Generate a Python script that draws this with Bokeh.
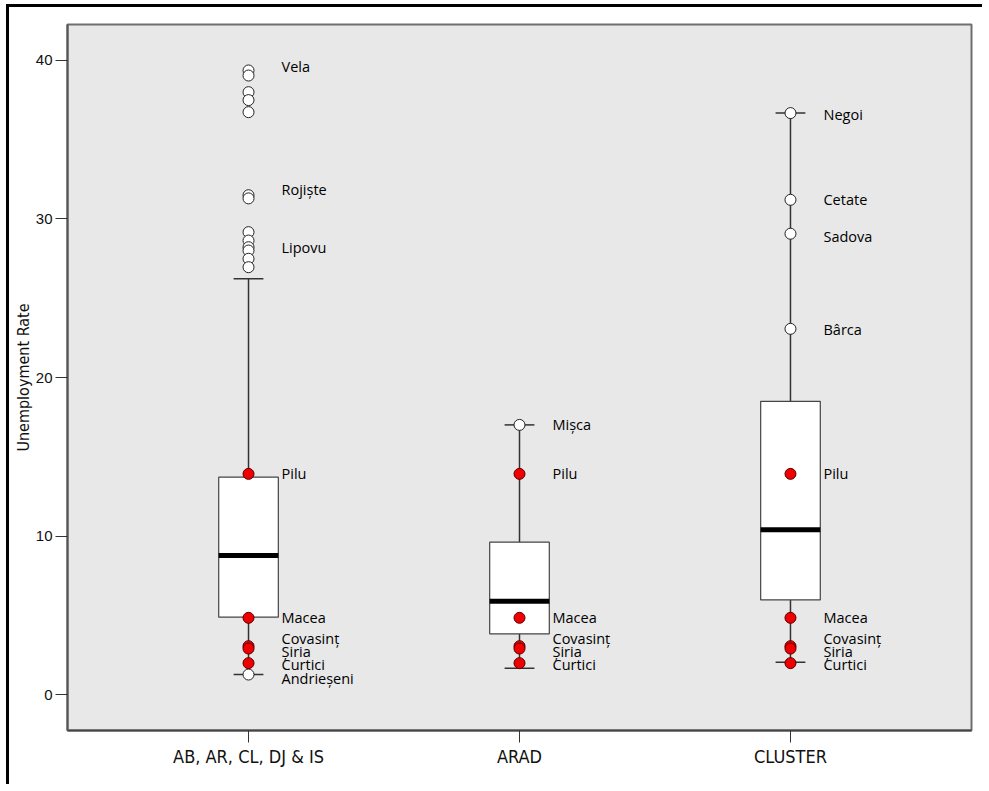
from bokeh.plotting import figure
from bokeh.models import FixedTicker, ColumnDataSource
from bokeh.core.properties import value
from bokeh.embed import file_html
from bokeh.resources import INLINE

# ---------------- data ----------------
groups = ["AB, AR, CL, DJ & IS", "ARAD", "CLUSTER"]
q1 = [4.88, 3.83, 5.97]
median = [8.77, 5.89, 10.39]
q3 = [13.71, 9.61, 18.5]
whisker_low = [1.26, 1.66, 2.04]
whisker_high = [26.23, 17.01, 36.68]

# open circles (outliers / extreme localities)
out_group = [0] * 13 + [0] + [1] + [2] * 4
out_value = [39.37, 39.05, 38.0, 37.5, 36.74, 31.5, 31.3,
             29.17, 28.64, 28.22, 28.01, 27.49, 26.96,
             1.26, 17.01, 36.68, 31.21, 29.07, 23.07]

# highlighted localities (red), same in each group
hl_names = ["Pilu", "Macea", "Covasinț", "Șiria", "Curtici"]
hl_values = [13.92, 4.84, 3.05, 2.9, 1.98]

# point labels
lab_group = [0, 0, 0, 0, 0, 0, 0, 0, 0,
             1, 1, 1, 1, 1, 1,
             2, 2, 2, 2, 2, 2, 2, 2, 2]
lab_text = ["Vela", "Rojiște", "Lipovu", "Pilu", "Macea", "Covasinț", "Șiria", "Curtici", "Andrieșeni",
            "Mișca", "Pilu", "Macea", "Covasinț", "Șiria", "Curtici",
            "Negoi", "Cetate", "Sadova", "Bârca", "Pilu", "Macea", "Covasinț", "Șiria", "Curtici"]
lab_value = [39.37, 31.5, 28.22, 13.92, 4.84, 3.05, 2.9, 1.98, 1.26,
             17.01, 13.92, 4.84, 3.05, 2.9, 1.98,
             36.68, 31.21, 29.07, 23.07, 13.92, 4.84, 3.05, 2.9, 1.98]
# pixel nudges used by the original to avoid overlapping labels (screen px, down positive)
lab_nudge = [-4, -6, 0, 0, 0, -8, 3, 1, 4,
             0, 0, 0, -8, 3, 1,
             1, 0, 3, 1, 0, 0, -8, 3, 1]

y_ticks = [0, 10, 20, 30, 40]

# ---------------- figure ----------------
xs = [i + 1 for i in range(len(groups))]
narrow = "'DejaVu Sans Condensed', 'Liberation Sans Narrow', Roboto, sans-serif"

p = figure(width=976, height=780, output_backend="svg", toolbar_location=None,
           x_range=(0.332, 3.668), y_range=(-2.27, 42.27),
           min_border_left=58, min_border_right=14, min_border_top=17, min_border_bottom=57)
p.styles = {"border-top": "3px solid black", "border-left": "3px solid black",
            "margin-top": "4px", "margin-left": "6px"}

p.background_fill_color = "#e8e8e8"
p.border_fill_color = "white"
p.outline_line_color = "#6e6e6e"
p.outline_line_width = 2
p.xgrid.visible = False
p.ygrid.visible = False

# whiskers
p.segment(x0=xs, y0=q3, x1=xs, y1=whisker_high, line_color="#333333", line_width=1.5)
p.segment(x0=xs, y0=whisker_low, x1=xs, y1=q1, line_color="#333333", line_width=1.5)
cap = 0.055
p.segment(x0=[x - cap for x in xs], y0=whisker_high, x1=[x + cap for x in xs], y1=whisker_high,
          line_color="#333333", line_width=1.5)
p.segment(x0=[x - cap for x in xs], y0=whisker_low, x1=[x + cap for x in xs], y1=whisker_low,
          line_color="#333333", line_width=1.5)

# boxes
p.vbar(x=xs, bottom=q1, top=q3, width=0.22, fill_color="white", line_color="#444444", line_width=1.2)
half = 0.11
p.segment(x0=[x - half for x in xs], y0=median, x1=[x + half for x in xs], y1=median,
          line_color="black", line_width=5)

# open circles
p.scatter(x=[xs[g] for g in out_group], y=out_value, size=11, marker="circle",
          fill_color="white", line_color="#222222", line_width=1)

# highlighted red points
hx = [x for x in xs for _ in hl_values]
hy = [v for _ in xs for v in hl_values]
p.scatter(x=hx, y=hy, size=11, marker="circle", fill_color="#f00000", line_color="#550000", line_width=1)

# labels
src = ColumnDataSource(dict(x=[xs[g] for g in lab_group], y=lab_value, t=lab_text, dy=lab_nudge))
p.text(x="x", y="y", text="t", source=src, x_offset=33, y_offset="dy",
       text_font=value("Open Sans"), text_font_size="14.5px", text_color="#000000",
       text_align="left", text_baseline="middle")

# axes
p.yaxis.ticker = FixedTicker(ticks=y_ticks)
p.yaxis.minor_tick_line_color = None
p.yaxis.major_tick_out = 12
p.yaxis.major_tick_in = 0
p.yaxis.major_tick_line_color = "#333333"
p.yaxis.axis_line_color = "#555555"
p.yaxis.axis_line_width = 2
p.yaxis.major_label_text_font = "Liberation Sans"
p.yaxis.major_label_text_font_size = "15px"
p.yaxis.major_label_text_color = "#111111"
p.yaxis.major_label_standoff = 3
p.yaxis.axis_label = "Unemployment Rate"
p.yaxis.axis_label_text_font = narrow
p.yaxis.axis_label_text_font_style = "normal"
p.yaxis.axis_label_text_font_size = "16px"
p.yaxis.axis_label_text_color = "#111111"
p.yaxis.axis_label_standoff = 0

p.xaxis.ticker = FixedTicker(ticks=xs)
p.xaxis.major_label_overrides = {x: g for x, g in zip(xs, groups)}
p.xaxis.minor_tick_line_color = None
p.xaxis.major_tick_out = 12
p.xaxis.major_tick_in = 0
p.xaxis.major_tick_line_color = "#333333"
p.xaxis.axis_line_color = "#444444"
p.xaxis.axis_line_width = 2
p.xaxis.major_label_text_font = narrow
p.xaxis.major_label_text_font_size = "18px"
p.xaxis.major_label_text_color = "#111111"
p.xaxis.major_label_standoff = 3

open("out.html", "w").write(file_html(p, INLINE))
